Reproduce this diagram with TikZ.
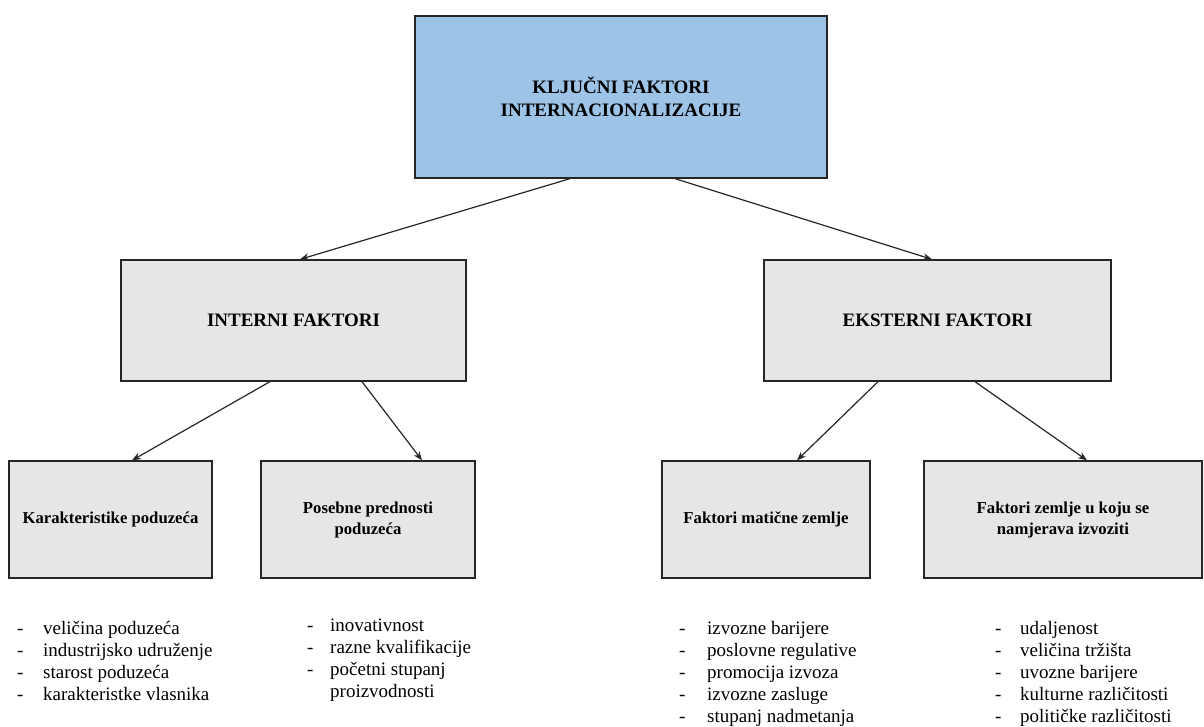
\documentclass[tikz,border=0pt]{standalone}
\usepackage{fontspec}
\setmainfont{Liberation Serif}
\usetikzlibrary{arrows.meta}
\definecolor{topblue}{HTML}{9DC3E6}
\definecolor{boxgray}{HTML}{E6E6E6}
\begin{document}
\begin{tikzpicture}[x=1pt,y=-1pt,
  box/.style={draw=black!85, line width=1.3pt, fill=boxgray, align=center, inner sep=0pt, font=\bfseries},
  topbox/.style={box, fill=topblue, font=\fontsize{19}{23}\selectfont\bfseries},
  midbox/.style={box, font=\fontsize{19}{23}\selectfont\bfseries},
  lowbox/.style={box, font=\fontsize{16.7}{21}\selectfont\bfseries},
  lst/.style={anchor=base west, inner sep=0pt, font=\fontsize{19}{22}\selectfont},
  conn/.style={draw=black!85, line width=1.2pt, -{Stealth[length=9pt,width=7pt]}}]
\useasboundingbox (0,0) rectangle (1204,727);
\fill[white] (0,0) rectangle (1204,727);
\node[topbox, minimum width=412pt, minimum height=162pt] (top) at (621,97) {KLJUČNI FAKTORI\\INTERNACIONALIZACIJE};
\node[midbox, minimum width=345pt, minimum height=121pt] (int) at (293.5,320.5) {INTERNI FAKTORI};
\node[midbox, minimum width=347pt, minimum height=121pt] (ext) at (937.5,320.5) {EKSTERNI FAKTORI};
\node[lowbox, minimum width=203pt, minimum height=117pt] (kar) at (110.5,519.5) {Karakteristike poduzeća};
\node[lowbox, minimum width=214pt, minimum height=117pt] (pos) at (368,519.5) {Posebne prednosti\\poduzeća};
\node[lowbox, minimum width=208pt, minimum height=117pt] (mat) at (766,519.5) {Faktori matične zemlje};
\node[lowbox, minimum width=278pt, minimum height=117pt] (zem) at (1063,519.5) {Faktori zemlje u koju se\\namjerava izvoziti};
\draw[conn] ([xshift=-51pt]top.south) -- ([xshift=6.5pt]int.north);
\draw[conn] ([xshift=54pt]top.south) -- ([xshift=-5.5pt]ext.north);
\draw[conn] ([xshift=-23.5pt]int.south) -- ([xshift=21.5pt]kar.north);
\draw[conn] ([xshift=68.5pt]int.south) -- ([xshift=54pt]pos.north);
\draw[conn] ([xshift=-59.5pt]ext.south) -- ([xshift=31pt]mat.north);
\draw[conn] ([xshift=37.5pt]ext.south) -- ([xshift=24pt]zem.north);
\node[lst] (l1) at (17,634) {\begin{tabular}[t]{@{}p{26pt}@{}l@{}}
- & veličina poduzeća\\
- & industrijsko udruženje\\
- & starost poduzeća\\
- & karakteristke vlasnika
\end{tabular}};
\node[lst] (l2) at (307,631) {\begin{tabular}[t]{@{}p{23pt}@{}l@{}}
- & inovativnost\\
- & razne kvalifikacije\\
- & početni stupanj\\
 & proizvodnosti
\end{tabular}};
\node[lst] (l3) at (679,634) {\begin{tabular}[t]{@{}p{28pt}@{}l@{}}
- & izvozne barijere\\
- & poslovne regulative\\
- & promocija izvoza\\
- & izvozne zasluge\\
- & stupanj nadmetanja
\end{tabular}};
\node[lst] (l4) at (995,634) {\begin{tabular}[t]{@{}p{25pt}@{}l@{}}
- & udaljenost\\
- & veličina tržišta\\
- & uvozne barijere\\
- & kulturne različitosti\\
- & političke različitosti
\end{tabular}};
\end{tikzpicture}
\end{document}
